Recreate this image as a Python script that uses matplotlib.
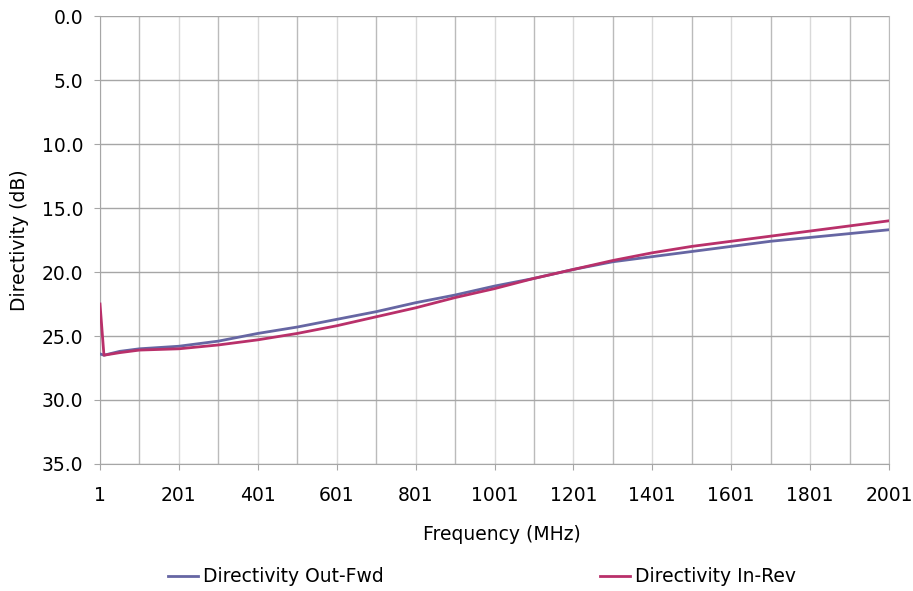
import matplotlib.pyplot as plt
from matplotlib.ticker import MultipleLocator, FormatStrFormatter

# frequency points (MHz)
freq = [1, 11, 51, 101, 201, 301, 401, 501, 601, 701, 801, 901, 1001,
        1101, 1201, 1301, 1401, 1501, 1601, 1701, 1801, 1901, 2001]

# directivity (dB)
out_fwd = [26.4, 26.5, 26.2, 26.0, 25.8, 25.4, 24.8, 24.3, 23.7, 23.1, 22.4,
           21.8, 21.1, 20.5, 19.8, 19.2, 18.8, 18.4, 18.0, 17.6, 17.3, 17.0, 16.7]
in_rev = [22.5, 26.5, 26.3, 26.1, 26.0, 25.7, 25.3, 24.8, 24.2, 23.5, 22.8,
          22.0, 21.3, 20.5, 19.8, 19.1, 18.5, 18.0, 17.6, 17.2, 16.8, 16.4, 16.0]

x_ticks = list(range(1, 2002, 200))
fs = 13.5

fig = plt.figure(figsize=(9.13, 5.91), dpi=100)
ax = fig.add_axes([100 / 913, 1 - 464 / 591, 789 / 913, 448 / 591])

ax.plot(freq, out_fwd, color='#6666A3', lw=2.0, label='Directivity Out-Fwd', zorder=3)
ax.plot(freq, in_rev, color='#B9306A', lw=2.0, label='Directivity In-Rev', zorder=4)

ax.set_xlim(1, 2001)
ax.set_ylim(35, 0)
ax.set_xticks(x_ticks)
ax.set_xticks(range(101, 2001, 200), minor=True)
ax.yaxis.set_major_locator(MultipleLocator(5))
ax.yaxis.set_major_formatter(FormatStrFormatter('%.1f'))

# grid: horizontal darker, vertical lighter
ax.grid(axis='y', color='#A6A6A6', lw=1.0)
ax.grid(axis='x', which='major', color='#D9D9D9', lw=1.0)
ax.grid(axis='x', which='minor', color='#BBBBBB', lw=1.0)
ax.set_axisbelow(True)

ax.spines['top'].set_visible(False)
ax.spines['right'].set_color('#BBBBBB')
ax.spines['left'].set_color('#A6A6A6')
ax.spines['bottom'].set_color('#A6A6A6')
ax.tick_params(axis='both', which='major', color='#A6A6A6', length=4.5,
               labelsize=fs, labelcolor='black')
ax.tick_params(axis='y', pad=7.5)
ax.tick_params(axis='x', pad=11.5)
ax.tick_params(axis='x', which='minor', length=0)

ax.set_xlabel('Frequency (MHz)', fontsize=fs, va='center')
ax.xaxis.set_label_coords((502 - 100) / 789, (464 - 535) / 448)
ax.set_ylabel('Directivity (dB)', fontsize=fs, va='center')
ax.yaxis.set_label_coords((20 - 100) / 789, 0.5)

fig.legend(loc='center', bbox_to_anchor=(482 / 913, 1 - 577 / 591), ncol=2,
           frameon=False, fontsize=fs, handlelength=1.6, handletextpad=0.27,
           columnspacing=11.5)

fig.savefig('out.png', dpi=100)
